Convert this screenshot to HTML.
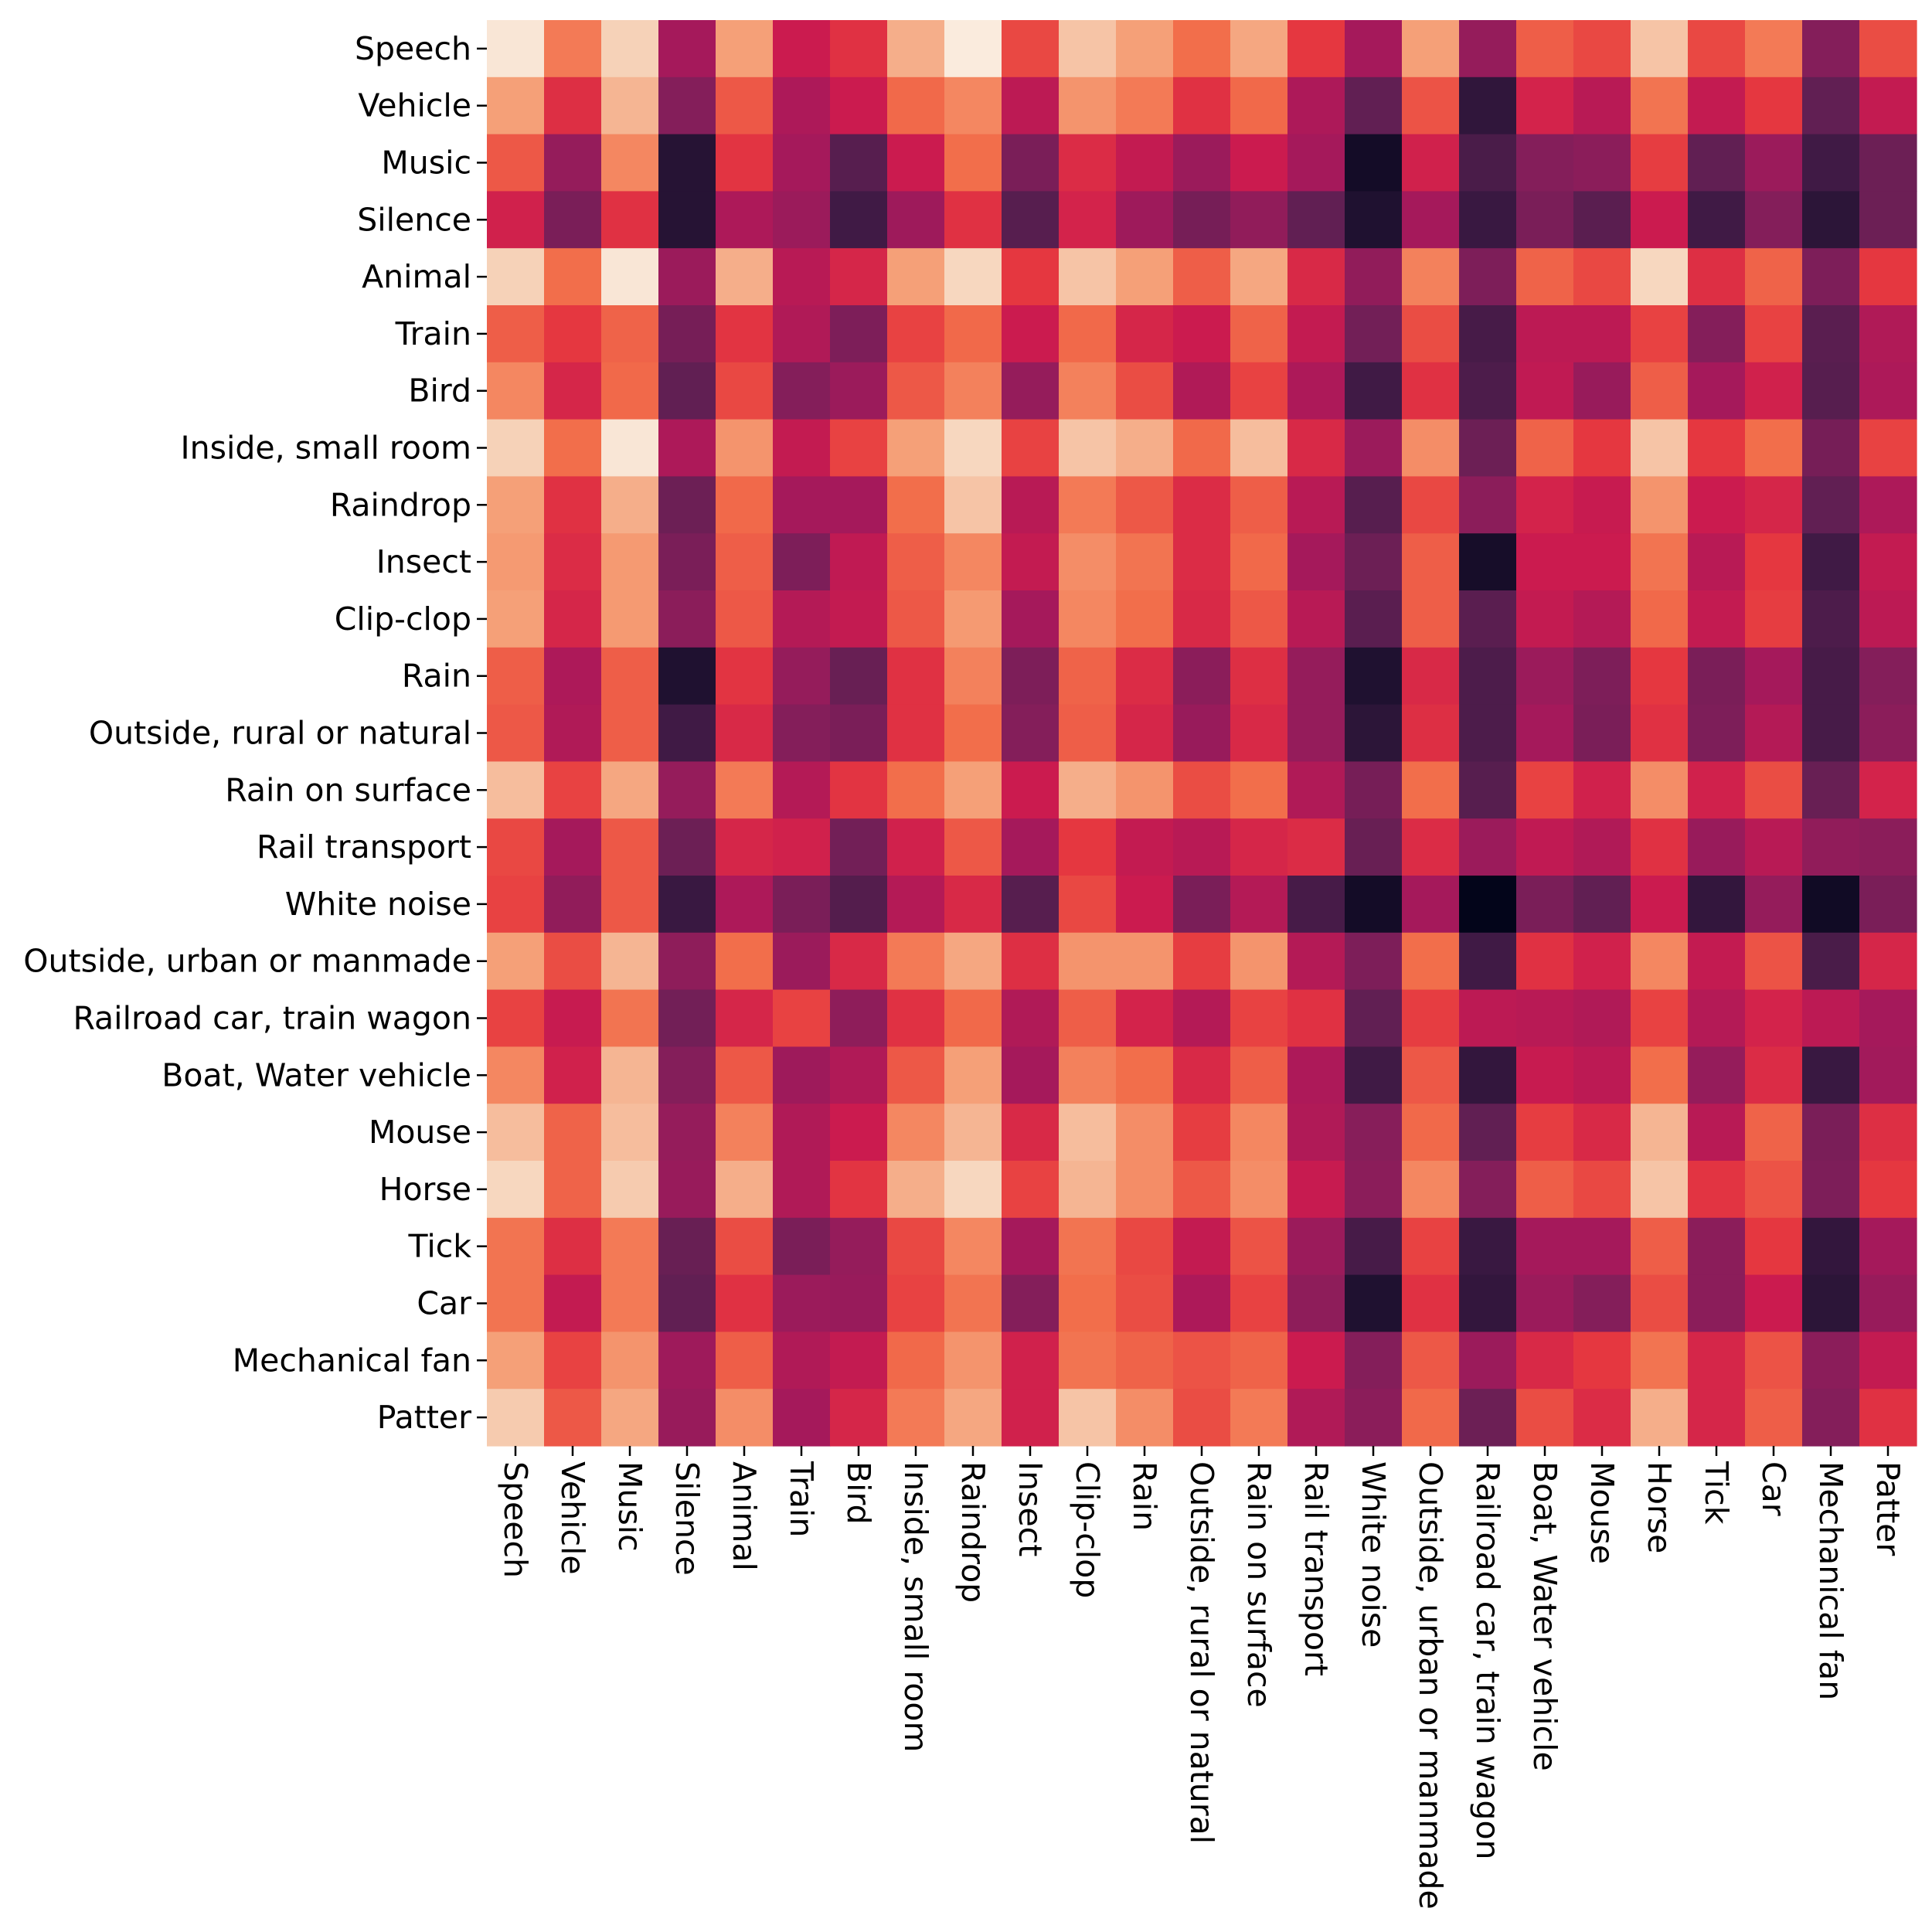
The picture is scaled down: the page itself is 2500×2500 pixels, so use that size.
<!DOCTYPE html>
<html><head><meta charset="utf-8"><style>
html,body{margin:0;padding:0;background:#fff}
svg{display:block}
text{font-family:"DejaVu Sans","Liberation Sans",sans-serif;font-size:41px;fill:#000}
</style></head><body>
<svg id="chart" width="2500" height="2500" viewBox="0 0 2500 2500" xmlns="http://www.w3.org/2000/svg">
<g id="cells"></g>
<g id="ylabels"></g>
<g id="xlabels"></g>
</svg>
<script>
const categories = ["Speech","Vehicle","Music","Silence","Animal","Train","Bird","Inside, small room","Raindrop","Insect","Clip-clop","Rain","Outside, rural or natural","Rain on surface","Rail transport","White noise","Outside, urban or manmade","Railroad car, train wagon","Boat, Water vehicle","Mouse","Horse","Tick","Car","Mechanical fan","Patter"];
const rowSpeech=[0.99,0.82,0.95,0.5,0.88,0.6,0.68,0.9,1.0,0.73,0.93,0.88,0.8,0.89,0.7,0.5,0.88,0.45,0.77,0.73,0.93,0.73,0.82,0.4,0.74];
const rowVehicle=[0.88,0.67,0.91,0.4,0.76,0.52,0.6,0.79,0.84,0.56,0.86,0.82,0.68,0.79,0.52,0.3,0.75,0.15,0.63,0.55,0.81,0.58,0.7,0.3,0.58];
const rowMusic=[0.76,0.45,0.84,0.12,0.69,0.5,0.27,0.6,0.8,0.37,0.66,0.58,0.47,0.6,0.5,0.06,0.62,0.23,0.4,0.42,0.71,0.3,0.47,0.2,0.33];
const rowSilence=[0.62,0.37,0.68,0.12,0.52,0.47,0.2,0.48,0.68,0.27,0.63,0.48,0.36,0.44,0.3,0.1,0.5,0.18,0.37,0.28,0.6,0.2,0.4,0.14,0.33];
const rowAnimal=[0.95,0.8,0.99,0.47,0.9,0.55,0.64,0.88,0.96,0.7,0.93,0.88,0.77,0.89,0.65,0.44,0.83,0.38,0.78,0.73,0.96,0.67,0.78,0.38,0.7];
const rowTrain=[0.77,0.7,0.78,0.36,0.69,0.53,0.38,0.72,0.79,0.6,0.79,0.64,0.6,0.78,0.58,0.35,0.74,0.22,0.56,0.56,0.72,0.4,0.72,0.28,0.53];
const rowBird=[0.84,0.64,0.79,0.3,0.73,0.4,0.47,0.76,0.83,0.45,0.83,0.74,0.53,0.72,0.52,0.2,0.68,0.24,0.57,0.46,0.77,0.5,0.62,0.27,0.52];
const rowInside=[0.95,0.8,0.99,0.52,0.86,0.58,0.72,0.88,0.96,0.72,0.93,0.9,0.79,0.92,0.65,0.47,0.85,0.33,0.78,0.7,0.93,0.7,0.8,0.36,0.72];
const rowRaindrop=[0.88,0.68,0.9,0.33,0.79,0.5,0.5,0.8,0.93,0.55,0.82,0.76,0.66,0.77,0.55,0.27,0.73,0.42,0.63,0.59,0.86,0.6,0.64,0.3,0.52];
const rowInsect=[0.87,0.66,0.87,0.37,0.77,0.38,0.57,0.77,0.84,0.58,0.85,0.81,0.66,0.79,0.5,0.33,0.77,0.07,0.6,0.6,0.81,0.55,0.7,0.2,0.58];
const rowClipclop=[0.88,0.64,0.87,0.42,0.76,0.54,0.58,0.76,0.87,0.5,0.84,0.8,0.65,0.76,0.55,0.28,0.77,0.28,0.58,0.54,0.79,0.58,0.71,0.24,0.56];
const rowRain=[0.77,0.52,0.77,0.1,0.69,0.45,0.32,0.68,0.83,0.38,0.78,0.66,0.42,0.67,0.45,0.1,0.65,0.24,0.47,0.38,0.7,0.37,0.5,0.22,0.4];
const rowOutsideRural=[0.76,0.53,0.77,0.2,0.65,0.4,0.37,0.68,0.8,0.4,0.77,0.64,0.46,0.65,0.45,0.14,0.67,0.24,0.5,0.37,0.68,0.38,0.54,0.22,0.42];
const rowRainOnSurface=[0.92,0.72,0.89,0.45,0.82,0.54,0.69,0.8,0.88,0.6,0.9,0.86,0.74,0.8,0.53,0.36,0.8,0.27,0.72,0.62,0.85,0.62,0.74,0.32,0.63];
const rowRailTransport=[0.73,0.5,0.76,0.33,0.64,0.62,0.35,0.62,0.76,0.5,0.7,0.58,0.55,0.64,0.66,0.32,0.66,0.47,0.57,0.53,0.68,0.46,0.55,0.44,0.42];
const rowWhiteNoise=[0.72,0.44,0.76,0.18,0.52,0.37,0.26,0.54,0.65,0.27,0.73,0.6,0.37,0.54,0.22,0.06,0.5,0.0,0.37,0.3,0.6,0.16,0.45,0.05,0.37];
const rowOutsideUrban=[0.88,0.74,0.91,0.43,0.8,0.47,0.65,0.82,0.89,0.67,0.86,0.86,0.71,0.86,0.54,0.38,0.8,0.2,0.68,0.62,0.84,0.58,0.75,0.23,0.64];
const rowRailroadCar=[0.72,0.59,0.81,0.35,0.64,0.72,0.43,0.68,0.79,0.53,0.77,0.63,0.54,0.72,0.68,0.3,0.71,0.56,0.55,0.53,0.72,0.54,0.63,0.56,0.5];
const rowBoat=[0.84,0.62,0.91,0.4,0.76,0.48,0.53,0.76,0.88,0.5,0.83,0.8,0.65,0.77,0.52,0.2,0.76,0.16,0.59,0.56,0.8,0.45,0.66,0.18,0.49];
const rowMouse=[0.92,0.78,0.92,0.45,0.83,0.53,0.6,0.84,0.91,0.65,0.92,0.85,0.71,0.84,0.53,0.41,0.79,0.3,0.71,0.65,0.91,0.55,0.78,0.37,0.67];
const rowHorse=[0.96,0.78,0.94,0.46,0.9,0.53,0.69,0.9,0.96,0.72,0.91,0.85,0.76,0.85,0.59,0.42,0.84,0.4,0.77,0.73,0.93,0.69,0.75,0.38,0.7];
const rowTick=[0.81,0.67,0.82,0.32,0.74,0.37,0.45,0.73,0.84,0.5,0.81,0.73,0.58,0.75,0.47,0.22,0.72,0.18,0.5,0.5,0.77,0.42,0.7,0.16,0.5];
const rowCar=[0.81,0.58,0.82,0.3,0.68,0.47,0.46,0.72,0.81,0.4,0.8,0.74,0.52,0.72,0.43,0.1,0.68,0.16,0.47,0.4,0.74,0.42,0.6,0.14,0.46];
const rowMechFan=[0.88,0.72,0.86,0.48,0.77,0.53,0.58,0.79,0.86,0.62,0.81,0.78,0.75,0.78,0.6,0.4,0.76,0.47,0.65,0.7,0.81,0.64,0.75,0.42,0.58];
const rowPatter=[0.94,0.76,0.89,0.46,0.85,0.5,0.64,0.82,0.89,0.62,0.93,0.85,0.74,0.82,0.53,0.42,0.79,0.33,0.74,0.66,0.9,0.64,0.77,0.4,0.68];
const values=[rowSpeech,rowVehicle,rowMusic,rowSilence,rowAnimal,rowTrain,rowBird,rowInside,rowRaindrop,rowInsect,rowClipclop,rowRain,rowOutsideRural,rowRainOnSurface,rowRailTransport,rowWhiteNoise,rowOutsideUrban,rowRailroadCar,rowBoat,rowMouse,rowHorse,rowTick,rowCar,rowMechFan,rowPatter];

const NS="http://www.w3.org/2000/svg";
const X0=630,X1=2480,Y0=26,Y1=1871;
const n=categories.length;
const cw=(X1-X0)/n, ch=(Y1-Y0)/n;
function xScale(i){return X0+i*cw;}
function yScale(i){return Y0+i*ch;}
const stops=[[0,[3,5,26]],[0.1,[31,17,48]],[0.2,[64,26,69]],[0.3,[97,31,83]],[0.4,[132,30,90]],[0.5,[165,25,91]],[0.6,[203,27,79]],[0.7,[229,55,64]],[0.8,[242,110,75]],[0.88,[245,160,120]],[0.95,[246,210,184]],[1,[250,235,221]]];
function rocket(v){
  v=Math.max(0,Math.min(1,v));
  for(let k=1;k<stops.length;k++){
    if(v<=stops[k][0]){
      const a=stops[k-1],b=stops[k],t=(v-a[0])/(b[0]-a[0]);
      const c=a[1].map((x,j)=>Math.round(x+(b[1][j]-x)*t));
      return "rgb("+c.join(",")+")";
    }
  }
  return "rgb(250,235,221)";
}
const cells=document.getElementById('cells');
for(let r=0;r<n;r++){for(let c=0;c<n;c++){
  const rect=document.createElementNS(NS,'rect');
  
  
  rect.setAttribute('x',xScale(c));rect.setAttribute('y',yScale(r));
  rect.setAttribute('width',cw+0.6);rect.setAttribute('height',ch+0.6);
  rect.setAttribute('fill',rocket(values[r][c]));
  cells.appendChild(rect);
}}
const yl=document.getElementById('ylabels'),xl=document.getElementById('xlabels');
for(let i=0;i<n;i++){
  const cy=yScale(i)+ch/2;
  const tk=document.createElementNS(NS,'line');
  
  
  tk.setAttribute('x1',X0-13);tk.setAttribute('x2',X0);tk.setAttribute('y1',cy);tk.setAttribute('y2',cy);
  tk.setAttribute('stroke','#000');tk.setAttribute('stroke-width','2.5');
  yl.appendChild(tk);
  const t=document.createElementNS(NS,'text');
  
  
  t.setAttribute('x',X0-20);t.setAttribute('y',cy);
  t.setAttribute('text-anchor','end');t.setAttribute('dominant-baseline','central');
  t.textContent=categories[i];
  yl.appendChild(t);
  const cx=xScale(i)+cw/2;
  const tk2=document.createElementNS(NS,'line');
  
  
  tk2.setAttribute('x1',cx);tk2.setAttribute('x2',cx);tk2.setAttribute('y1',Y1);tk2.setAttribute('y2',Y1+13);
  tk2.setAttribute('stroke','#000');tk2.setAttribute('stroke-width','2.5');
  xl.appendChild(tk2);
  const t2=document.createElementNS(NS,'text');
  
  
  t2.setAttribute('transform','translate('+cx+','+(Y1+20)+') rotate(90)');
  t2.setAttribute('text-anchor','start');t2.setAttribute('dominant-baseline','central');
  t2.textContent=categories[i];
  xl.appendChild(t2);
}
</script>
</body></html>
